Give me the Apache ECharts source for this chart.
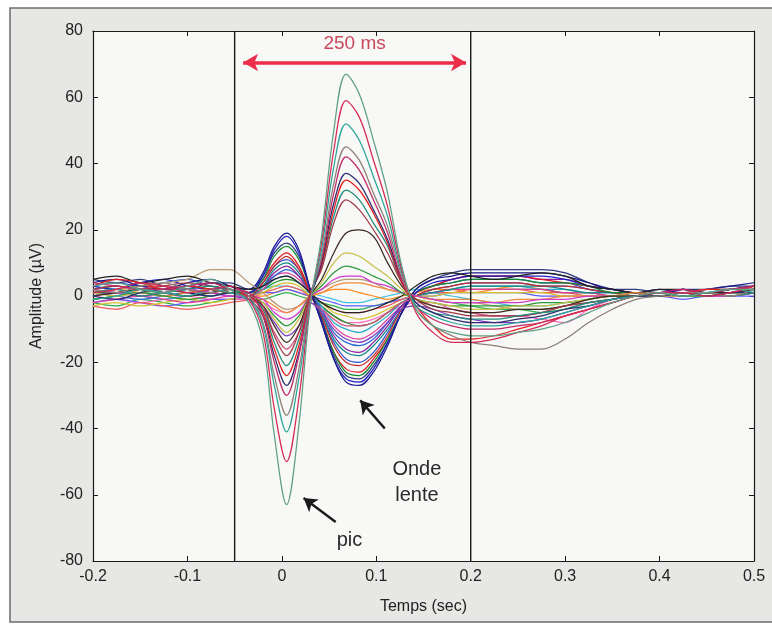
<!DOCTYPE html>
<html>
<head>
<meta charset="utf-8">
<script src="https://cdn.jsdelivr.net/npm/echarts@6/dist/echarts.min.js"></script>
<style>
  html, body { margin: 0; padding: 0; background: #ffffff; }
  #chart { width: 772px; height: 631px; }
</style>
</head>
<body>
<div id="chart"></div>
<script>
// Sample times (s) shared by every epoch
const times = [-0.2,-0.175,-0.15,-0.125,-0.1,-0.075,-0.055,-0.035,-0.02,-0.008,0.005,0.018,0.03,0.042,0.055,0.068,0.082,0.097,0.112,0.127,0.142,0.16,0.18,0.2,0.225,0.25,0.275,0.3,0.325,0.35,0.375,0.4,0.425,0.45,0.475,0.5];

// Epochs with a negative spike followed by a positive slow wave (µV)
const a1  = [3,4,2,1,3,5,2, -2,-14,-42,-63,-39,-3, 18,50,67,61,47,31,9,-4, -9,-11,-12,-12,-11,-10,-8,-5,-2,0,1,0,1,2,2];
const a2  = [1,2,4,3,1,2,3, -1,-11,-34,-50,-31,-2, 16,44,59,54,41,27,8,-5, -11,-14,-14,-13,-11,-9,-6,-4,-2,0,1,1,0,1,3];
const a3  = [-1,0,2,1,0,2,1, -1,-9,-27,-41,-25,-2, 14,39,52,47,36,24,7,-3, -6,-8,-9,-9,-8,-7,-5,-3,-1,0,1,0,1,2,1];
const a4  = [2,1,3,4,2,1,2, 0,-8,-24,-36,-22,-1, 12,34,45,41,31,21,6,-4, -9,-12,-14,-15,-16,-16,-13,-8,-4,-1,0,1,1,0,2];
const a5  = [4,3,2,2,3,4,2, 1,-6,-20,-30,-18,0, 11,31,42,38,29,19,5,-3, -7,-9,-10,-10,-9,-8,-6,-4,-2,0,1,2,1,2,3];
const a6  = [0,-1,1,2,1,0,1, -1,-6,-18,-27,-17,-1, 10,28,37,34,26,17,5,-2, -5,-7,-8,-8,-7,-6,-4,-3,-1,0,0,1,0,1,1];
const a7  = [3,5,4,2,3,2,1, 0,-5,-16,-24,-15,0, 9,26,35,32,25,16,4,-3, -9,-13,-13,-12,-10,-8,-6,-4,-2,0,1,1,2,2,3];
const a8  = [1,2,0,1,2,3,2, 0,-4,-14,-21,-13,0, 9,24,32,29,22,15,4,-2, -5,-6,-7,-7,-6,-5,-4,-2,-1,0,0,1,1,0,1];
const a9  = [2,3,2,3,4,3,2, 1,-3,-12,-18,-11,1, 8,22,29,26,20,13,4,-1, -4,-5,-6,-6,-6,-5,-3,-2,-1,0,1,1,1,2,2];
const a10 = [0,1,2,1,0,1,2, 0,-3,-9,-14,-9,0, 5,13,19,20,18,10,3,-1, -3,-4,-5,-5,-4,-4,-3,-1,0,0,1,0,1,1,2];
const a11 = [1,0,1,2,1,2,1, 0,-2,-7,-11,-7,0, 4,10,13,12,9,6,2,-1, -2,-3,-4,-4,-3,-3,-2,-1,0,0,0,1,0,1,1];
const a12 = [-1,0,1,0,-1,0,1, 0,-2,-6,-9,-6,0, 3,7,9,8,6,4,1,-1, -2,-3,-3,-3,-3,-2,-2,-1,0,0,1,0,0,1,1];
const a13 = [2,1,0,1,2,1,0, 0,-1,-5,-7,-5,0, 2,5,6,6,4,3,1,0, -1,-2,-2,-2,-2,-1,-1,0,0,0,1,1,0,1,2];
const a14 = [1,2,1,0,1,2,1, 0,-1,-3,-5,-3,0, 1,3,4,4,3,2,1,0, -1,-1,-1,-2,-1,-1,0,0,0,1,0,0,1,1,1];

// Epochs with a positive spike followed by a negative slow wave (µV)
const b1  = [4,5,3,2,4,5,3, 2,7,15,19,14,2, -8,-19,-26,-27,-23,-15,-5,2, 5,6,7,7,7,7,6,4,2,1,2,1,2,3,4];
const b2  = [3,2,4,5,3,2,3, 1,6,14,18,13,2, -8,-19,-25,-26,-22,-14,-5,1, 4,5,6,6,6,6,5,3,2,1,1,2,1,2,3];
const b3  = [5,4,5,3,2,4,4, 2,6,13,16,12,2, -7,-18,-24,-25,-21,-14,-5,2, 5,7,8,8,8,8,7,4,2,2,1,2,2,3,3];
const b4  = [2,3,2,1,3,2,1, 1,5,12,15,11,2, -7,-17,-23,-24,-20,-13,-5,1, 3,4,5,5,5,4,4,3,1,1,0,1,1,2,2];
const b5  = [1,2,3,3,2,1,2, 1,5,10,13,9,1, -7,-17,-22,-23,-19,-13,-5,1, 3,5,6,6,6,5,4,3,2,1,1,2,1,2,3];
const b6  = [0,1,2,1,0,2,1, 0,4,9,12,8,1, -6,-15,-20,-21,-18,-12,-4,0, 2,3,4,4,4,3,3,2,1,0,1,1,0,1,2];
const b7  = [3,4,3,4,5,3,2, 1,4,9,11,8,1, -6,-14,-19,-20,-17,-11,-4,1, 3,4,5,5,5,4,4,2,1,1,1,1,2,2,3];
const b8  = [-1,0,1,0,1,2,1, 0,3,8,10,7,1, -5,-13,-17,-18,-15,-10,-4,0, 1,2,3,3,3,3,2,1,1,0,0,1,0,1,1];
const b9  = [2,3,2,2,3,4,3, 1,3,7,9,6,1, -5,-12,-16,-17,-14,-9,-3,1, 3,5,6,6,6,5,5,3,2,1,1,2,1,2,2];
const b10 = [1,0,-1,0,1,0,1, 0,3,6,8,6,1, -4,-11,-14,-15,-13,-8,-3,0, 2,3,4,4,4,3,3,2,1,0,1,1,0,1,2];
const b11 = [-2,-1,0,-1,-2,-1,0, 0,2,6,7,5,1, -4,-9,-12,-13,-11,-7,-3,0, 1,2,2,2,2,2,1,1,0,0,0,1,0,0,1];
const b12 = [0,1,0,-1,0,1,0, 0,2,5,6,4,1, -3,-8,-10,-11,-9,-6,-2,0, 1,2,3,3,3,2,2,1,1,0,0,0,1,1,1];
const b13 = [1,1,2,1,0,1,2, 1,2,4,5,4,1, -3,-6,-8,-9,-8,-5,-2,0, 1,2,2,2,2,2,1,1,0,0,1,0,1,1,2];
const b14 = [-3,-2,-3,-2,-1,-2,-1, 0,1,3,4,3,0, -2,-5,-6,-7,-6,-4,-2,0, 0,1,1,1,1,1,0,0,0,0,0,0,0,1,1];
const b15 = [-3,-4,-2,-3,-4,-3,-2, -1,1,2,3,2,0, -2,-4,-5,-5,-4,-3,-1,0, 1,1,2,2,2,1,1,0,0,0,0,0,1,0,1];
const b16 = [-2,-1,-2,-3,-2,-1,-1, 0,1,1,2,1,0, -1,-2,-3,-3,-3,-2,-1,0, 0,1,1,1,1,0,0,0,0,0,0,-1,0,0,0];

// Mixed and low-amplitude epochs (µV)
const m1 = [0,1,0,1,2,1,0, -1,-3,-8,-12,-9,-2, -5,-10,-13,-14,-12,-8,-4,-3, -4,-6,-7,-8,-8,-7,-5,-3,-1,0,0,1,0,1,1];
const m2 = [2,1,2,3,2,1,2, 0,-4,-11,-16,-11,-2, -4,-7,-9,-9,-8,-5,-2,-1, -3,-4,-5,-6,-6,-5,-3,-2,-1,0,0,1,1,1,2];
const n1 = [1,2,3,4,5,8,8, 4,1,-2,-4,-3,0, 2,4,5,5,4,2,1,0, -1,-2,-2,-3,-4,-4,-3,-1,0,1,1,1,2,2,3];
const n2 = [5,6,4,5,6,4,3, 2,3,5,6,4,1, -2,-4,-5,-5,-4,-2,0,3, 6,7,6,5,6,7,6,3,2,1,2,2,1,2,3];
const n3 = [-1,0,1,0,-1,0,1, 0,0,1,2,1,0, 1,2,2,1,0,-1,0,1, 2,2,1,2,3,2,1,1,0,0,1,1,0,1,2];
const n4 = [0,-1,-2,-1,0,-1,-1, -1,-2,-4,-5,-3,-1, -3,-6,-8,-8,-7,-5,-3,-2, -2,-4,-5,-6,-6,-7,-8,-4,-1,0,0,0,1,1,2];
const n5 = [3,2,1,2,3,2,1, 1,2,3,3,2,1, 0,-1,-2,-2,-1,0,1,2, 1,0,-1,-2,-3,-3,-2,-1,0,0,1,1,0,1,2];
const n6 = [-2,-3,-1,-2,-3,-2,-1, -1,-1,0,1,0,-1, -2,-3,-4,-4,-3,-2,-1,0, -1,-2,-3,-4,-4,-5,-4,-2,-1,0,0,1,1,0,1];

const epochs = [n6,n5,n3,n4,b16,b15,b14,b13,b12,b11,b10,b9,b8,b7,b6,b5,b4,b3,b2,b1,m2,m1,n1,n2,
                a14,a13,a12,a11,a10,a9,a8,a7,a6,a5,a4,a3,a2,a1];
const epochColors = ['#2eb04e','#3ec2e2','#ff8a1e','#ff6ec4','#5c5cff','#f25c5c','#d2c22e','#1e8e1e',
                     '#2eaacc','#e23e9e','#2a6ad8','#8e1e9e','#0f8a8a','#2e56d4','#c42c2c','#e0141e',
                     '#128a32','#2e3a7a','#2222c8','#1a1a8c','#d2507e','#7a3ec2','#b89a74','#222222',
                     '#f08a3a','#d03ad0','#2a9a3a','#c8c048','#3a2a20','#a03848','#1f8c7c','#e41e1e',
                     '#2c2c70','#c0286a','#8c7f78','#2aa59a','#d42a55','#5f9f86'];

// Axis ranges and ticks
const xTicks = [-0.2,-0.1,0,0.1,0.2,0.3,0.4,0.5];
const yTicks = [-80,-60,-40,-20,0,20,40,60,80];

// Cursors delimiting the 250 ms window, and annotation anchors
const cursorTimes = [-0.05, 0.2];
const windowArrow = [[-0.041, 70.5], [0.195, 70.5]];
const windowLabel = { text: '250 ms', at: [0.077, 76] };
const slowWaveArrow = [[0.109, -40], [0.083, -31.5]];
const slowWaveLabel = { lines: ['Onde', 'lente'], at: [0.143, -52.5], lineStep: -7.6 };
const spikeArrow = [[0.057, -68.2], [0.023, -61]];
const spikeLabel = { text: 'pic', at: [0.058, -73.7] };

const font = 'Liberation Sans, Arial, sans-serif';

const series = epochs.map((vals, k) => ({
  type: 'line',
  data: times.map((t, i) => [t, vals[i]]),
  showSymbol: false,
  smooth: 0.35,
  silent: true,
  lineStyle: { width: 1.25, color: epochColors[k] },
  z: 2
}));

cursorTimes.forEach(t => {
  series.push({
    type: 'line',
    data: [[t, yTicks[0]], [t, yTicks[yTicks.length - 1]]],
    showSymbol: false,
    silent: true,
    lineStyle: { color: '#1a1a1a', width: 1.4 },
    z: 5
  });
});

// Annotation arrows
series.push({
  type: 'line',
  data: [],
  silent: true,
  markLine: {
    silent: true,
    animation: false,
    data: [
      [{ coord: windowArrow[0], symbol: 'arrow', symbolSize: [13, 15], lineStyle: { type: 'solid', color: '#ec2d4a', width: 3.5 } },
       { coord: windowArrow[1], symbol: 'arrow', symbolSize: [13, 15] }],
      [{ coord: slowWaveArrow[0], symbol: 'none', lineStyle: { type: 'solid', color: '#1a1a1a', width: 2.4 } },
       { coord: slowWaveArrow[1], symbol: 'arrow', symbolSize: [12, 13] }],
      [{ coord: spikeArrow[0], symbol: 'none', lineStyle: { type: 'solid', color: '#1a1a1a', width: 2.4 } },
       { coord: spikeArrow[1], symbol: 'arrow', symbolSize: [12, 13] }]
    ],
    lineStyle: { type: 'solid' },
    label: { show: false }
  },
  z: 6
});

const axisCommon = {
  type: 'value',
  axisLine: { show: true, onZero: false, lineStyle: { color: '#1a1a1a', width: 1.2 } },
  axisTick: { show: true, inside: true, length: 5, lineStyle: { color: '#1a1a1a' } },
  splitLine: { show: false }
};

const option = {
  animation: false,
  backgroundColor: 'transparent',
  grid: { left: 93, right: 18, top: 31, bottom: 70, show: true, backgroundColor: '#f8f8f6', borderWidth: 0 },
  xAxis: [
    Object.assign({}, axisCommon, {
      min: xTicks[0], max: xTicks[xTicks.length - 1], interval: 0.1, position: 'bottom',
      axisLabel: { color: '#222', fontFamily: font, fontSize: 16, margin: 8,
                   formatter: v => String(Math.round(v * 10) / 10) },
      name: 'Temps (sec)', nameLocation: 'middle', nameGap: 38,
      nameTextStyle: { color: '#222', fontFamily: font, fontSize: 16 }
    }),
    Object.assign({}, axisCommon, {
      min: xTicks[0], max: xTicks[xTicks.length - 1], interval: 0.1, position: 'top',
      axisLabel: { show: false }
    })
  ],
  yAxis: [
    Object.assign({}, axisCommon, {
      min: yTicks[0], max: yTicks[yTicks.length - 1], interval: 20, position: 'left',
      axisLabel: { color: '#222', fontFamily: font, fontSize: 16, margin: 10 },
      name: 'Amplitude (µV)', nameLocation: 'middle', nameGap: 48,
      nameTextStyle: { color: '#222', fontFamily: font, fontSize: 16 }
    }),
    Object.assign({}, axisCommon, {
      min: yTicks[0], max: yTicks[yTicks.length - 1], interval: 20, position: 'right',
      axisLabel: { show: false }
    })
  ],
  series: series
};

const chart = echarts.init(document.getElementById('chart'), null, { renderer: 'canvas' });
chart.setOption(option);

// Figure panel and text annotations placed through the axis scales
const px = c => chart.convertToPixel({ gridIndex: 0 }, c);
const wl = px(windowLabel.at);
const sl0 = px(slowWaveLabel.at);
const sl1 = px([slowWaveLabel.at[0], slowWaveLabel.at[1] + slowWaveLabel.lineStep]);
const sp = px(spikeLabel.at);
chart.setOption({
  graphic: [
    { type: 'rect', z: -10, silent: true,
      shape: { x: 10, y: 8, width: 770, height: 614 },
      style: { fill: '#e7e7e5', stroke: '#6c6c6c', lineWidth: 1.5 } },
    { type: 'text', x: wl[0], y: wl[1], z: 10, silent: true,
      style: { text: windowLabel.text, fill: '#c9485c', font: '19px ' + font, textAlign: 'center', textVerticalAlign: 'middle' } },
    { type: 'text', x: sl0[0], y: sl0[1], z: 10, silent: true,
      style: { text: slowWaveLabel.lines[0], fill: '#2a2a2a', font: '20px ' + font, textAlign: 'center', textVerticalAlign: 'middle' } },
    { type: 'text', x: sl1[0], y: sl1[1], z: 10, silent: true,
      style: { text: slowWaveLabel.lines[1], fill: '#2a2a2a', font: '20px ' + font, textAlign: 'center', textVerticalAlign: 'middle' } },
    { type: 'text', x: sp[0], y: sp[1], z: 10, silent: true,
      style: { text: spikeLabel.text, fill: '#2a2a2a', font: '20px ' + font, textAlign: 'left', textVerticalAlign: 'middle' } }
  ]
});
</script>
</body>
</html>
